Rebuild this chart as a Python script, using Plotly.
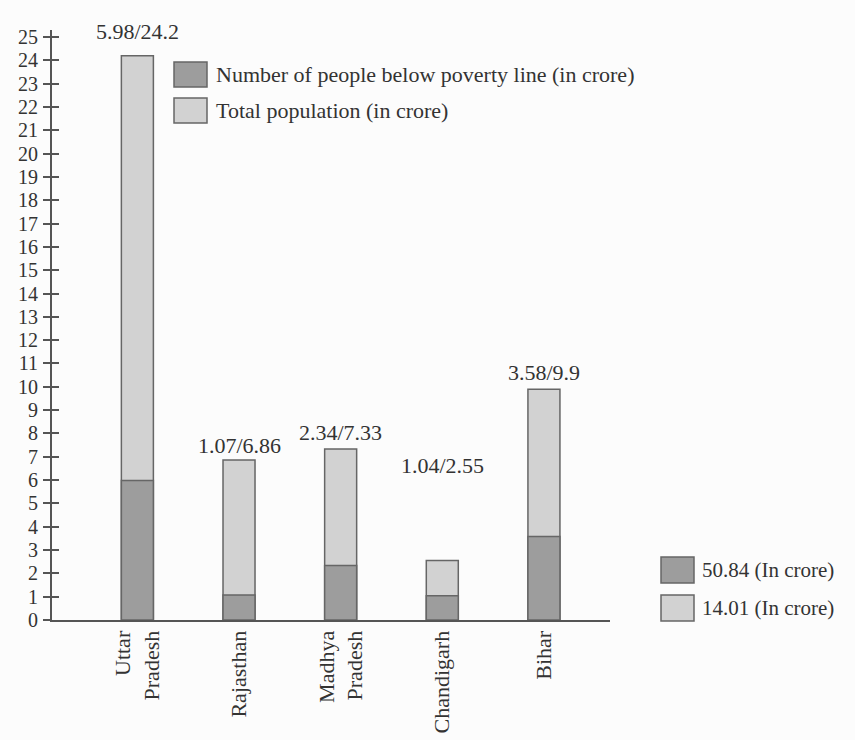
import plotly.graph_objects as go

# ---- data ----
states = ["Uttar<br>Pradesh", "Rajasthan", "Madhya<br>Pradesh", "Chandigarh", "Bihar"]
below_poverty = [5.98, 1.07, 2.34, 1.04, 3.58]
total_population = [24.2, 6.86, 7.33, 2.55, 9.9]
series_names = ["Number of people below poverty line (in crore)", "Total population (in crore)"]
summary_labels = ["50.84 (In crore)", "14.01 (In crore)"]
y_ticks = list(range(0, 26))

# ---- styles ----
W, H = 855, 740
L, R, T, B = 52, 245, 30, 120
DARK = "#9d9d9d"
LIGHT = "#d2d2d2"
EDGE = "#666666"
AXIS = "#555555"
TXT = "#333333"
FONT = "Liberation Serif"
label_shift = [24, 15, 17, 95, 17]  # pixel offset of value labels above bar tops

PW, PH = W - L - R, H - T - B


def px(x):
    return (x - L) / PW


def py(y):
    return (H - B - y) / PH


fig = go.Figure()
fig.add_trace(go.Bar(x=states, y=total_population, name=series_names[1], width=0.315,
                     marker=dict(color=LIGHT, line=dict(color=EDGE, width=1.5)), showlegend=False))
fig.add_trace(go.Bar(x=states, y=below_poverty, name=series_names[0], width=0.315,
                     marker=dict(color=DARK, line=dict(color=EDGE, width=1.5)), showlegend=False))
# invisible trace to carry the inside tick marks on an overlaying axis
fig.add_trace(go.Scatter(x=[states[0]], y=[0], yaxis="y2", mode="markers",
                         marker=dict(opacity=0), showlegend=False, hoverinfo="skip"))

annotations = []
for s, p, t, sh in zip(states, below_poverty, total_population, label_shift):
    annotations.append(dict(x=s, y=t, text=f"{p}/{t}", showarrow=False, yanchor="middle",
                            yshift=sh, font=dict(family=FONT, size=22, color=TXT)))

shapes = []
# legend 1 (top)
leg1 = [(62, 87, DARK, series_names[0]), (98, 123, LIGHT, series_names[1])]
for y0, y1, col, name in leg1:
    shapes.append(dict(type="rect", xref="paper", yref="paper", x0=px(174), x1=px(207),
                       y0=py(y1), y1=py(y0), fillcolor=col, line=dict(color=EDGE, width=1.5)))
    annotations.append(dict(xref="paper", yref="paper", x=px(214), y=py((y0 + y1) / 2),
                            xanchor="left", yanchor="middle", text=name, showarrow=False,
                            font=dict(family=FONT, size=22, color=TXT)))
# legend 2 (bottom right)
leg2 = [(557, 583, DARK, summary_labels[0]), (595, 621, LIGHT, summary_labels[1])]
for y0, y1, col, name in leg2:
    shapes.append(dict(type="rect", xref="paper", yref="paper", x0=px(661), x1=px(694),
                       y0=py(y1), y1=py(y0), fillcolor=col, line=dict(color=EDGE, width=1.5)))
    annotations.append(dict(xref="paper", yref="paper", x=px(700), y=py((y0 + y1) / 2),
                            xanchor="left", yanchor="middle", text=name, showarrow=False,
                            font=dict(family=FONT, size=21, color=TXT)))

yrange = [0, 25.3]
fig.update_layout(
    width=W, height=H,
    margin=dict(l=L, r=R, t=T, b=B),
    paper_bgcolor="#fcfcfc", plot_bgcolor="#fcfcfc",
    barmode="overlay",
    showlegend=False,
    font=dict(family=FONT, size=20, color=TXT),
    xaxis=dict(type="category", range=[-0.84, 4.65], showgrid=False, zeroline=False,
               showline=True, linecolor=AXIS, linewidth=2, ticks="", tickangle=-90,
               automargin=False,
               tickfont=dict(family=FONT, size=22, color=TXT)),
    yaxis=dict(range=yrange, tickvals=y_ticks, showgrid=False, zeroline=False,
               showline=True, linecolor=AXIS, linewidth=2, ticks="outside", ticklen=7,
               tickwidth=1.5, tickcolor=AXIS, ticklabelstandoff=1, automargin=False,
               tickfont=dict(family=FONT, size=20, color=TXT)),
    yaxis2=dict(range=yrange, tickvals=y_ticks, overlaying="y", side="left", showgrid=False,
                zeroline=False, showline=False, ticks="inside", ticklen=7, tickwidth=1.5,
                tickcolor=AXIS, showticklabels=False, automargin=False),
    annotations=annotations,
    shapes=shapes,
)

fig.write_html("out.html")
